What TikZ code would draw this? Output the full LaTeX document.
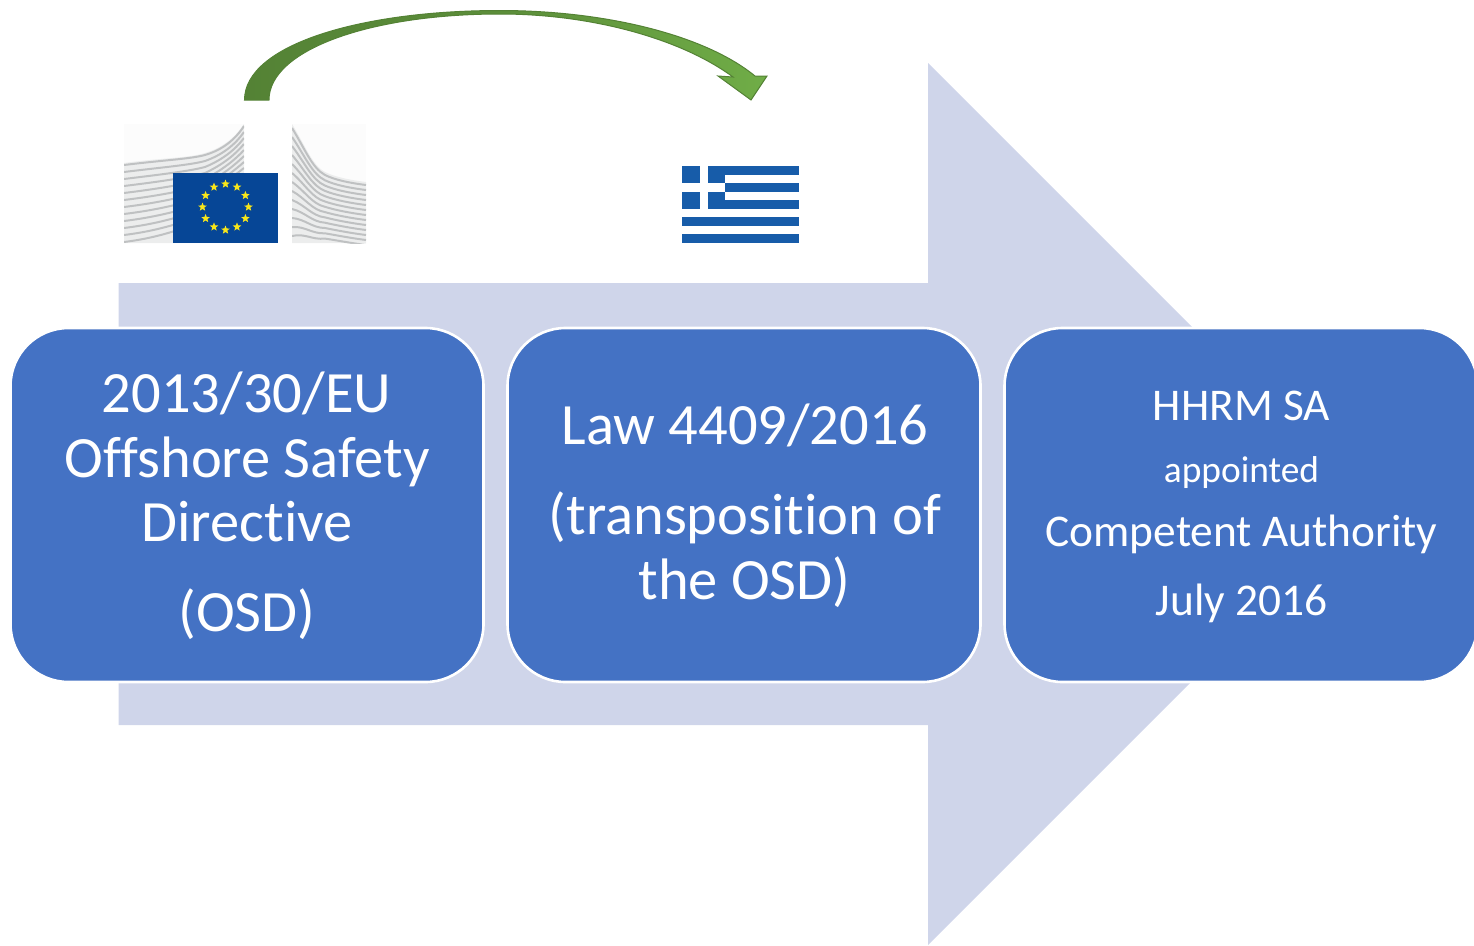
\documentclass[tikz,border=0pt]{standalone}
\usepackage{fontspec}
\setmainfont{Carlito}[Ligatures=NoCommon,Contextuals=NoAlternate]
\usetikzlibrary{shapes.geometric}
\definecolor{boxblue}{HTML}{4472C4}
\definecolor{bandblue}{HTML}{CFD5EA}
\definecolor{darkgreen}{HTML}{548235}
\definecolor{lightgreen}{HTML}{70AD47}
\definecolor{eublue}{HTML}{064696}
\definecolor{grblue}{HTML}{175CA9}
\definecolor{euyellow}{HTML}{F8E61A}
\definecolor{bldg}{HTML}{B4B6B8}
\definecolor{bldgbase}{HTML}{ECEDED}
\definecolor{bldgsky}{HTML}{FCFCFC}
\tikzset{
  stagebox/.style={draw=white,line width=2.6pt,fill=boxblue,rounded corners=58pt,minimum width=473pt,minimum height=354pt,inner sep=0pt},
  biglabel/.style={text=white,anchor=base,inner sep=0pt,font=\fontsize{58.5}{58.5}\selectfont},
  midlabel/.style={text=white,anchor=base,inner sep=0pt,font=\fontsize{45.4}{45.4}\selectfont},
  smalllabel/.style={text=white,anchor=base,inner sep=0pt,font=\fontsize{37.4}{37.4}\selectfont},
  eustar/.style={star,star points=5,star point ratio=2.3,fill=euyellow,inner sep=0pt,minimum size=9pt},
  bldgline/.style={draw=bldg,line width=2pt,opacity=.8}
}
\begin{document}
\begin{tikzpicture}[x=1pt,y=-1pt]
\useasboundingbox (0,0) rectangle (1474,945);
\clip (0,0) rectangle (1474,945);
% big arrow
\fill[bandblue] (118.5,283) -- (928,283) -- (928,63) -- (1369,504) -- (928,945) -- (928,725) -- (118.5,725) -- cycle;
% curved arrow
\draw[draw=darkgreen,line width=1pt,left color=darkgreen,right color=lightgreen,middle color=darkgreen!70!lightgreen]
 (244.5,100) .. controls (244.5,45) and (360,10.5) .. (500,10.5) .. controls (605,10.5) and (705,35) .. (755,76)
 -- (767,76) -- (751,100) -- (718,76) -- (733,77) .. controls (680,38) and (590,14) .. (500,14) .. controls (370,14) and (269,50) .. (269,100) -- cycle;
% EU logo
\begin{scope}
 \fill[bldgsky] (124,124) rectangle (244,243);
 \clip (124,124) rectangle (244,243);
 \fill[bldgbase] (124,163) .. controls (160,158) and (190,158) .. (205,153) .. controls (222,148) and (235,138) .. (244,124) -- (244,243) -- (124,243) -- cycle;
 \foreach \i in {0,...,11}{
  \draw[bldgline] (124,{165+\i*7}) .. controls (165,{160+\i*7}) and (190,{159+\i*6}) .. (205,{155+\i*6}) .. controls (222,{150+\i*5}) and (235,{140+\i*5}) .. (244,{126+\i*6});
 }
\end{scope}
\begin{scope}
 \fill[bldgsky] (292,124) rectangle (366,243);
 \clip (292,124) rectangle (366,243);
 \fill[bldgbase] (292,124) .. controls (305,145) and (312,165) .. (325,172) .. controls (335,177) and (350,180) .. (366,182) -- (366,243) -- (292,243) -- cycle;
 \foreach \i in {0,...,12}{
  \draw[bldgline] (292,{128+\i*9}) .. controls (305,{149+\i*7}) and (312,{168+\i*6}) .. (325,{175+\i*5.3}) .. controls (335,{180+\i*5}) and (350,{183+\i*5}) .. (366,{185+\i*5});
 }
\end{scope}
\fill[eublue] (173,173) rectangle (278,243);
\node[coordinate] (eucentre) at (225.5,207) {};
\foreach \a in {0,30,...,330}{
  \node[eustar] (star\a) at ([shift={(\a:23pt)}]eucentre) {};
}
% Greek flag
\fill[grblue] (682,166) rectangle (799,243);
\foreach \i in {1,3,5,7}{
  \fill[white] (682,{166+\i*8.55}) rectangle (799,{166+(\i+1)*8.55});
}
\fill[grblue] (682,166) rectangle (725,208.8);
\fill[white] (699.5,166) rectangle (708,208.8);
\fill[white] (682,183.2) rectangle (725,191.8);
% boxes
\node[stagebox] (osd) at (247,505) {};
\node[stagebox] (law) at (744,505) {};
\node[stagebox] (hhrm) at (1241,505) {};
% texts
\node[biglabel] (a1) at (246.5,412) {2013/30/EU};
\node[biglabel] (a2) at (247,477) {Offshore Safety};
\node[biglabel] (a3) at (247,541) {Directive};
\node[biglabel] (a4) at (247,631) {(OSD)};
\node[biglabel] (b1) at (745,444) {Law 4409/2016};
\node[biglabel] (b2) at (745,534) {(transposition of};
\node[biglabel] (b3) at (744.5,599) {the OSD)};
\node[midlabel] (c1) at (1241.5,420) {HHRM SA};
\node[smalllabel] (c2) at (1241.5,482) {appointed};
\node[midlabel] (c3) at (1241.5,546) {Competent Authority};
\node[midlabel] (c4) at (1241.5,615) {July 2016};
\end{tikzpicture}
\end{document}
